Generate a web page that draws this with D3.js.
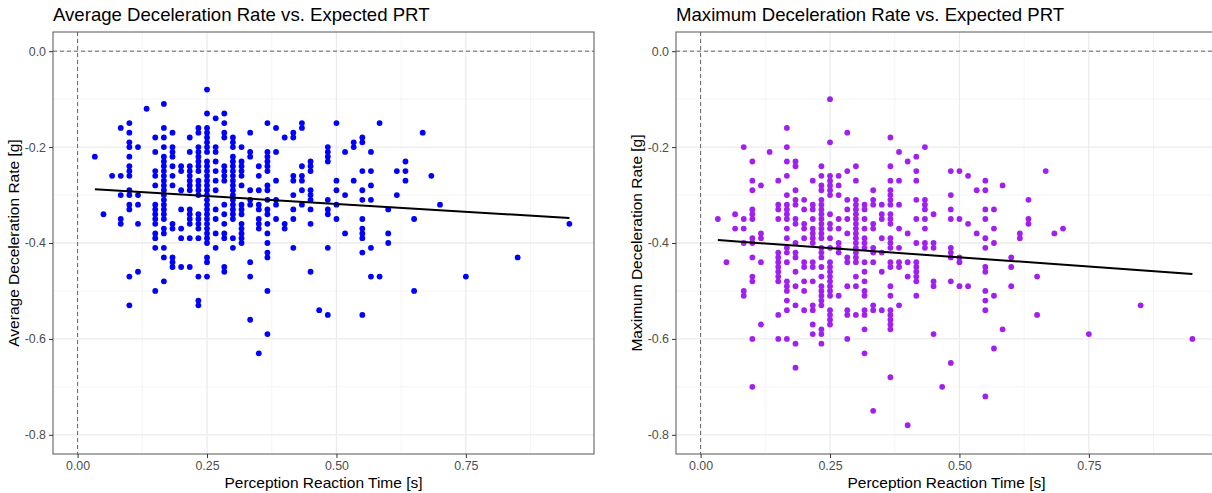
<!DOCTYPE html>
<html>
<head>
<meta charset="utf-8">
<script src="https://cdn.jsdelivr.net/npm/d3@7"></script>
<style>
  body { margin: 0; background: #fff; }
  svg { display: block; font-family: "Liberation Sans", Arial, sans-serif; }
</style>
</head>
<body>
<svg id="chart" width="1212" height="493"></svg>
<script>
// PRT is recorded in video frames (60 fps); rates are in hundredths of g (negative)
const frameRate = 60;

// [frame, [deceleration * -100, ...]]
const avgColumns = [
  [2, [22]], [3, [34]], [4, [26]],
  [5, [16, 26, 30, 35, 36]],
  [6, [15, 17, 19, 20, 22, 24, 25, 26, 29, 30, 32, 33, 47, 53]],
  [7, [20, 30, 32, 36, 46]],
  [8, [12]],
  [9, [18, 21, 25, 26, 28, 32, 33, 34, 35, 36, 38, 39, 41, 50]],
  [10, [11, 16, 18, 20, 22, 23, 24, 25, 26, 27, 28, 29, 30, 31, 32, 33, 34, 35, 37, 38, 41, 43, 48]],
  [11, [17, 20, 21, 22, 24, 26, 28, 36, 37, 43, 44, 45]],
  [12, [24, 25, 29, 33, 37, 39, 45]],
  [13, [18, 21, 24, 25, 26, 27, 28, 29, 33, 34, 35, 36, 39, 45]],
  [14, [16, 17, 20, 21, 22, 23, 24, 25, 27, 28, 29, 30, 34, 35, 36, 37, 39, 47, 52, 53]],
  [15, [8, 13, 16, 17, 18, 19, 20, 21, 23, 24, 25, 26, 27, 28, 29, 30, 31, 32, 33, 34, 35, 36, 37, 38, 39, 40, 43, 44, 47]],
  [16, [14, 20, 21, 23, 25, 27, 29, 33, 35, 38, 41]],
  [17, [13, 15, 17, 18, 24, 25, 26, 27, 32, 34, 36, 38, 39, 45, 46]],
  [18, [18, 19, 20, 22, 23, 24, 25, 26, 27, 28, 29, 30, 31, 32, 33, 34, 35, 39, 41]],
  [19, [20, 23, 24, 25, 26, 28, 32, 33, 34, 36, 37, 38, 39, 40]],
  [20, [17, 21, 22, 29, 31, 32, 44, 47, 56]],
  [21, [24, 26, 29, 32, 33, 35, 36, 37, 63]],
  [22, [15, 21, 22, 23, 24, 25, 28, 29, 31, 33, 34, 36, 38, 40, 42, 43, 50, 59]],
  [23, [16, 21, 27, 31, 32, 35]],
  [24, [18, 36, 37]],
  [25, [17, 18, 26, 27, 30, 33, 35, 41]],
  [26, [15, 16, 24, 26, 27, 29, 32]],
  [27, [23, 24, 25, 29, 30, 31, 33, 36, 46]],
  [28, [54]],
  [29, [20, 21, 22, 23, 31, 33, 34, 41, 55]],
  [30, [15, 27, 29, 32, 35]],
  [31, [21, 30, 38]],
  [32, [19, 20, 27]],
  [33, [18, 19, 25, 29, 31, 35, 37, 38, 39, 42, 55]],
  [34, [21, 25, 28, 31, 41, 47]],
  [35, [15, 47]],
  [36, [33, 38, 40]],
  [37, [25, 30]],
  [38, [23, 25, 27]],
  [39, [35, 50]],
  [40, [17]], [41, [26]], [42, [32]], [45, [47]], [51, [43]], [57, [36]]
];

const maxColumns = [
  [2, [35]], [3, [44]], [4, [34, 37]],
  [5, [20, 35, 37, 40, 50, 51]],
  [6, [23, 27, 29, 33, 34, 35, 39, 40, 43, 47, 48, 60, 70]],
  [7, [28, 38, 39, 44, 57]],
  [8, [21]],
  [9, [27, 32, 33, 35, 42, 43, 44, 45, 46, 47, 48, 55, 60]],
  [10, [16, 20, 23, 26, 30, 32, 33, 34, 35, 37, 39, 41, 42, 44, 48, 49, 50, 52, 54, 60]],
  [11, [23, 24, 29, 31, 32, 35, 36, 40, 42, 43, 46, 49, 53, 61, 66]],
  [12, [31, 33, 36, 37, 39, 44, 45, 48, 50, 54]],
  [13, [27, 32, 33, 35, 37, 38, 39, 40, 44, 45, 48, 53, 54, 57, 59]],
  [14, [24, 26, 28, 29, 31, 32, 33, 34, 35, 36, 37, 38, 39, 41, 42, 43, 45, 47, 49, 50, 51, 52, 53, 58, 59, 61]],
  [15, [10, 19, 26, 27, 28, 29, 30, 34, 36, 37, 39, 41, 44, 45, 46, 47, 48, 49, 50, 51, 54, 55, 56, 57]],
  [16, [26, 28, 30, 35, 37, 40, 41, 42, 51]],
  [17, [17, 25, 31, 33, 35, 38, 43, 44, 49, 54, 55, 60]],
  [18, [24, 27, 31, 32, 33, 34, 35, 36, 37, 38, 39, 40, 41, 42, 43, 44, 47, 49, 55]],
  [19, [32, 33, 35, 37, 39, 40, 41, 44, 46, 48, 50, 51, 54, 55, 58, 63]],
  [20, [29, 31, 32, 36, 37, 41, 42, 44, 53, 54, 75]],
  [21, [32, 34, 35, 39, 42, 46, 54]],
  [22, [18, 24, 27, 29, 30, 31, 32, 34, 35, 36, 39, 40, 41, 44, 45, 49, 51, 54, 55, 56, 57, 58, 68]],
  [23, [21, 27, 32, 37, 41, 44, 45, 53]],
  [24, [23, 38, 44, 47, 78]],
  [25, [22, 25, 27, 31, 35, 40, 44, 45, 46, 47, 48, 51]],
  [26, [20, 31, 32, 33, 35, 37, 40, 41]],
  [27, [34, 40, 41, 48, 49, 59]],
  [28, [70]],
  [29, [25, 30, 33, 35, 41, 42, 43, 48, 65]],
  [30, [25, 35, 43, 44, 49]],
  [31, [26, 36, 49]],
  [32, [29, 38]],
  [33, [27, 29, 33, 35, 39, 41, 45, 46, 50, 52, 54, 72]],
  [34, [33, 37, 40, 51, 62]],
  [35, [28, 58]],
  [36, [43, 45, 49]],
  [37, [38, 39]],
  [38, [31, 35, 36]],
  [39, [47, 55]],
  [40, [25]], [41, [38]], [42, [37]], [45, [59]], [51, [53]], [57, [60]]
];

// linear fits
const avgFit = { intercept: -0.2858, slope: -0.0654 };
const maxFit = { intercept: -0.3914, slope: -0.0770 };

const xTicks = [0, 0.25, 0.5, 0.75];
const xMinor = [0.125, 0.375, 0.625, 0.875];
const yTicks = [0, -0.2, -0.4, -0.6, -0.8];
const yMinor = [-0.1, -0.3, -0.5, -0.7];

const svg = d3.select("#chart");
const panel = { left: 53, top: 32, width: 541, height: 422 };

// plain hyphen for negatives, like R does
const fmtY = d => d.toFixed(1);
const fmtX = d => d.toFixed(2);

function toPoints(columns) {
  const pts = [];
  columns.forEach(([frame, rates]) => {
    rates.forEach(r => pts.push({ prt: frame / frameRate, rate: -r / 100 }));
  });
  return pts;
}

function drawPlot(offsetX, cfg) {
  const data = toPoints(cfg.columns);
  const root = svg.append("g").attr("transform", `translate(${offsetX},0)`);

  const x = d3.scaleLinear().domain([-0.0475, 0.9975]).range([0, panel.width]);
  const y = d3.scaleLinear().domain([-0.84, 0.04]).range([panel.height, 0]);

  root.append("text")
    .attr("x", panel.left)
    .attr("y", 21)
    .attr("font-size", 18.6)
    .attr("fill", "#000")
    .text(cfg.title);

  const g = root.append("g").attr("transform", `translate(${panel.left},${panel.top})`);

  // grid
  g.selectAll(".xminor").data(xMinor).enter().append("line")
    .attr("x1", d => x(d)).attr("x2", d => x(d))
    .attr("y1", 0).attr("y2", panel.height)
    .attr("stroke", "#F2F2F2").attr("stroke-width", 0.8);
  g.selectAll(".yminor").data(yMinor).enter().append("line")
    .attr("y1", d => y(d)).attr("y2", d => y(d))
    .attr("x1", 0).attr("x2", panel.width)
    .attr("stroke", "#F2F2F2").attr("stroke-width", 0.8);
  g.selectAll(".xmajor").data(xTicks).enter().append("line")
    .attr("x1", d => x(d)).attr("x2", d => x(d))
    .attr("y1", 0).attr("y2", panel.height)
    .attr("stroke", "#EBEBEB").attr("stroke-width", 1.3);
  g.selectAll(".ymajor").data(yTicks).enter().append("line")
    .attr("y1", d => y(d)).attr("y2", d => y(d))
    .attr("x1", 0).attr("x2", panel.width)
    .attr("stroke", "#EBEBEB").attr("stroke-width", 1.3);

  // reference lines at zero
  g.append("line")
    .attr("x1", 0).attr("x2", panel.width)
    .attr("y1", y(0)).attr("y2", y(0))
    .attr("stroke", "#666").attr("stroke-width", 1).attr("stroke-dasharray", "4,3");
  g.append("line")
    .attr("x1", x(0)).attr("x2", x(0))
    .attr("y1", 0).attr("y2", panel.height)
    .attr("stroke", "#666").attr("stroke-width", 1).attr("stroke-dasharray", "4,3");

  // points
  g.selectAll(".pt").data(data).enter().append("circle")
    .attr("cx", d => x(d.prt))
    .attr("cy", d => y(d.rate))
    .attr("r", 2.9)
    .attr("fill", cfg.color);

  // fitted line over the data range
  const [x0, x1] = d3.extent(data, d => d.prt);
  const fit = cfg.fit;
  g.append("line")
    .attr("x1", x(x0)).attr("y1", y(fit.intercept + fit.slope * x0))
    .attr("x2", x(x1)).attr("y2", y(fit.intercept + fit.slope * x1))
    .attr("stroke", "#000").attr("stroke-width", 2);

  // border
  g.append("rect")
    .attr("width", panel.width).attr("height", panel.height)
    .attr("fill", "none").attr("stroke", "#555").attr("stroke-width", 1);

  // axes
  const xAxis = g.append("g")
    .attr("transform", `translate(0,${panel.height})`)
    .call(d3.axisBottom(x).tickValues(xTicks).tickFormat(fmtX).tickSizeOuter(0).tickSizeInner(4).tickPadding(3));
  const yAxis = g.append("g")
    .call(d3.axisLeft(y).tickValues(yTicks).tickFormat(fmtY).tickSizeOuter(0).tickSizeInner(4).tickPadding(3));
  [xAxis, yAxis].forEach(a => {
    a.select(".domain").remove();
    a.selectAll(".tick line").attr("stroke", "#333");
    a.selectAll(".tick text")
      .attr("fill", "#4D4D4D")
      .attr("font-size", 12.4)
      .attr("font-family", "Liberation Sans, Arial, sans-serif");
  });

  root.append("text")
    .attr("x", panel.left + panel.width / 2)
    .attr("y", 488)
    .attr("text-anchor", "middle")
    .attr("font-size", 15.5)
    .text("Perception Reaction Time [s]");

  root.append("text")
    .attr("transform", `translate(19,${panel.top + panel.height / 2}) rotate(-90)`)
    .attr("text-anchor", "middle")
    .attr("font-size", 15.5)
    .text(cfg.yLabel);
}

drawPlot(0, {
  columns: avgColumns,
  fit: avgFit,
  color: "#0000FF",
  title: "Average Deceleration Rate vs. Expected PRT",
  yLabel: "Average Deceleration Rate [g]"
});

drawPlot(623, {
  columns: maxColumns,
  fit: maxFit,
  color: "#A020F0",
  title: "Maximum Deceleration Rate vs. Expected PRT",
  yLabel: "Maximum Deceleration Rate [g]"
});
</script>
</body>
</html>
